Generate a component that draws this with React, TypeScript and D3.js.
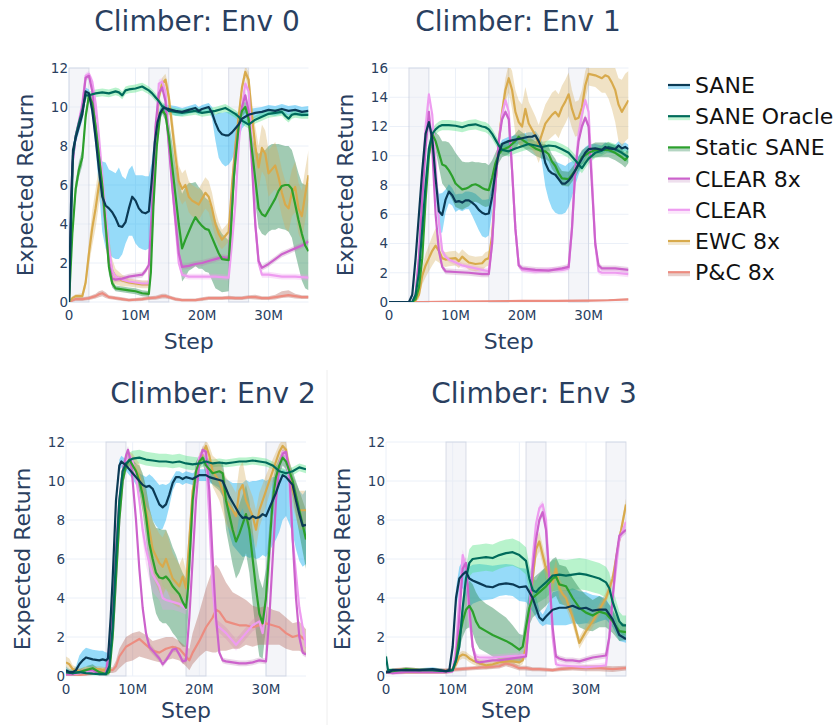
import React from "react";
import * as d3 from "d3";

// point = [step in millions, mean, band below, band above (defaults to band below)]
type Pt = number[];

const seriesNames = ["SANE", "SANE Oracle", "Static SANE", "CLEAR 8x", "CLEAR", "EWC 8x", "P&C 8x"];
const lineColors = ["#0b3a55", "#006b5b", "#2ca02c", "#cc62cc", "#ee9cf0", "#d8aa4c", "#ec8c80"];
const bandColors = ["#16b0f2", "#4ee27f", "#2e8b57", "#b87ab2", "#ee9cf0", "#d4ab5a", "#b36a5e"];
const bandOpacity = [0.45, 0.4, 0.45, 0.3, 0.3, 0.35, 0.4];

const envTitles = ["Climber: Env 0", "Climber: Env 1", "Climber: Env 2", "Climber: Env 3"];
const yMaxes = [12, 16, 12, 12];
const xTickValues = [0, 10, 20, 30];
const xTickLabels = ["0", "10M", "20M", "30M"];
const trainWindows = [
  [[0, 3], [12, 15], [24, 27]],
  [[3, 6], [15, 18], [27, 30]],
  [[6, 9], [18, 21], [30, 33]],
  [[9, 12], [21, 24], [33, 36]],
];

// ---------- Env 0 ----------
const e0Sane: Pt[] = [[0,0,0],[0.3,5,0.5],[0.6,7.8,0.3],[1,8.4,0.3],[1.5,9,0.3],[2,9.6,0.3],[2.5,10.8,0.2],[3,10.7,0.2],[3.5,9.8,0.3],[4,8.4,0.5],[4.5,6.8,1.0,0.8],[5,5.4,1.8,1.8],[5.5,4.95,2.2,2.2],[6,4.8,2.3,2.0],[6.5,4.6,2.3,2.1],[7,4.3,2.1,2.3],[7.5,3.9,1.7,3.0],[8,3.85,1.4,2.6],[8.5,4.1,1.1,2.2],[9,4.8,1.4,2.0],[9.5,5.4,2.0,1.6],[10,5.2,2.2,1.3],[10.5,4.8,2.0,1.7],[11,4.6,1.9,1.9],[11.5,4.55,1.9,1.9],[12,4.65,1.9,1.8],[12.4,6.1,1.4,1.0],[12.9,8.2,0.8,0.5],[13.3,9.2,0.4],[13.7,9.7,0.3],[14.2,9.95,0.2],[15,9.9,0.2],[16,9.8,0.25],[17,9.75,0.2],[18,9.85,0.2],[19,9.95,0.2],[19.5,9.8,0.2],[20,9.9,0.2],[21,10.0,0.2],[21.5,9.7,0.3],[22,9.2,0.9,0.4],[22.5,8.8,1.4,0.9],[23,8.6,1.5,1.1],[23.5,8.55,1.6,1.2],[24,8.55,1.5,1.2],[24.5,8.7,1.4,1.0],[25,8.9,1.1,0.8],[25.5,9.1,0.8,0.6],[26,9.4,0.5,0.4],[27,9.6,0.3],[28,9.7,0.25],[29,9.75,0.25],[30,9.85,0.25],[31,9.8,0.25],[32,9.9,0.25],[33,9.8,0.25],[34,9.85,0.25],[35,9.75,0.25],[36,9.8,0.25]];
const e0Oracle: Pt[] = [[0,0,0],[0.3,4,0.3],[0.6,7.5,0.3],[1,8.5,0.3],[1.5,9.2,0.3],[2,9.8,0.3],[2.5,10.6,0.2],[3,10.6,0.2],[4,10.7,0.2],[5,10.75,0.2],[6,10.7,0.2],[7,10.8,0.2],[7.5,10.75,0.2],[8,10.6,0.2],[8.5,10.85,0.2],[9,10.9,0.2],[10,10.95,0.2],[10.5,11.0,0.2],[11,11.05,0.2],[11.5,10.95,0.2],[12,10.85,0.2],[12.5,10.7,0.2],[13,10.5,0.2],[13.5,10.3,0.2],[14,10.05,0.2],[14.5,9.95,0.2],[15,9.8,0.2],[16,9.75,0.2],[17,9.7,0.2],[18,9.75,0.2],[19,9.8,0.2],[20,9.7,0.2],[21,9.75,0.2],[22,9.8,0.2],[23,9.9,0.2],[23.5,9.95,0.2],[24,9.85,0.2],[25,9.65,0.2],[25.5,9.5,0.2],[26,9.3,0.2],[27,9.1,0.2],[28,9.35,0.2],[29,9.5,0.2],[30,9.65,0.2],[31,9.7,0.2],[32,9.75,0.2],[32.5,9.55,0.2],[33,9.4,0.2],[33.5,9.6,0.2],[34,9.65,0.2],[35,9.6,0.2],[36,9.6,0.2]];
const e0Static: Pt[] = [[0,0,0],[0.5,3.5,0.4],[1,5.8,0.4],[1.5,6.8,0.4],[2,7.4,0.4],[2.5,9.5,0.3],[3,10.6,0.2],[3.5,10.2,0.3],[4,9,0.4],[4.5,7.5,0.5],[5,6,0.5],[5.5,4,0.5],[6,1.8,0.4],[6.5,0.95,0.2],[7,0.7,0.15],[8,0.65,0.15],[9,0.6,0.15],[10,0.55,0.15],[11,0.45,0.15],[12,0.42,0.15],[12.3,1.5,0.3],[12.7,5,0.4],[13.2,8,0.4],[13.7,9.6,0.3],[14,9.85,0.2],[14.5,9.6,0.3],[15,8.5,0.8],[15.5,7.0,1.2],[16,5.5,1.5],[16.5,4.0,1.6,2.2],[17,2.75,1.7,2.8],[17.5,3.2,1.9,2.7],[18,3.6,2.0,2.5],[18.5,4.0,2.3,2.1],[19,4.35,2.5,1.8],[19.5,4.1,2.4,1.8],[20,3.9,2.2,1.8],[20.5,3.75,2.2,1.6],[21,3.7,2.2,1.5],[21.5,3.3,2.2,1.4],[22,2.9,2.2,1.3],[22.5,2.5,1.9,1.3],[23,2.2,1.7,1.3],[24,2.15,1.6,1.0],[24.3,3.5,1.2,0.8],[24.8,6.5,0.8],[25.5,9,0.5],[26,9.8,0.3],[26.5,10.0,0.3],[27,9.4,0.4],[27.5,7.8,0.8],[28,6.3,1.2,1.5],[28.5,4.8,1.0,2.8],[29,4.5,1.0,3.2],[29.5,4.4,1.0,3.4],[30,4.7,1.1,3.3],[30.5,5.0,1.3,3.1],[31,5.3,1.6,2.8],[31.5,5.7,1.9,2.4],[32,5.95,2.2,2.1],[32.5,6.0,2.3,2.0],[33,6.0,2.4,2.0],[33.5,5.8,2.5,2.0],[34,5.0,2.5,2.2],[34.5,4.2,2.4,2.4],[35,3.5,2.4,2.6],[35.5,2.9,2.2,3.1],[36,2.6,2.0,3.5]];
const e0Clear8: Pt[] = [[0,0,0],[0.5,7,0.2],[1,8.5,0.2],[1.5,9.2,0.2],[2,10,0.2],[2.5,11.5,0.15],[3,11.6,0.15],[3.5,10.8,0.2],[4,9,0.2],[4.5,7.5,0.2],[5,5.8,0.2],[5.5,3.8,0.2],[6,2,0.2],[6.5,1.2,0.15],[7,1.15,0.15],[8,1.2,0.15],[9,1.3,0.15],[10,1.35,0.15],[11,1.4,0.15],[11.5,1.6,0.15],[12,1.9,0.15],[12.5,5,0.2],[13,9,0.2],[13.5,10.7,0.2],[14,11.0,0.15],[14.5,10.3,0.2],[15,8,0.2],[15.5,6,0.2],[16,4.2,0.2],[16.5,2.5,0.2],[17,1.8,0.15],[18,1.85,0.15],[19,1.95,0.15],[20,2.0,0.15],[21,2.1,0.15],[22,2.2,0.15],[23,2.3,0.15],[24,2.25,0.15],[24.5,5,0.2],[25,7.5,0.2],[25.5,9,0.2],[26,10,0.2],[26.5,10.6,0.2],[27,9.8,0.2],[27.5,7,0.2],[28,4,0.2],[28.5,2.1,0.15],[29,1.75,0.15],[30,1.95,0.15],[31,2.2,0.15],[32,2.45,0.15],[33,2.6,0.15],[34,2.75,0.15],[35,2.9,0.15],[36,3.1,0.15]];
const e0Clear: Pt[] = [[0,0,0],[0.5,7,0.2],[1,8.5,0.2],[1.5,9.3,0.2],[2,10.2,0.2],[2.5,11.6,0.15],[3,11.7,0.15],[3.5,11.3,0.2],[4,10.2,0.2],[4.5,8.5,0.2],[5,6.5,0.2],[5.5,4.5,0.2],[6,2.8,0.2],[6.5,1.6,0.15],[7,1.3,0.15],[8,1.15,0.15],[9,1.05,0.15],[10,1.0,0.15],[11,0.95,0.15],[12,0.95,0.15],[12.5,4,0.2],[13,8,0.2],[13.5,11.2,0.2],[14,11.3,0.2],[14.5,10.8,0.2],[15,8.5,0.2],[15.5,6,0.2],[16,4,0.2],[16.5,2,0.15],[17,1.4,0.15],[18,1.3,0.15],[20,1.3,0.15],[22,1.3,0.15],[24,1.25,0.15],[24.5,3,0.2],[25,5,0.2],[25.5,8,0.2],[26,10,0.2],[26.5,11.2,0.2],[27,10.8,0.2],[27.5,8,0.2],[28,4,0.2],[28.5,2,0.15],[29,1.4,0.15],[30,1.4,0.15],[32,1.3,0.15],[34,1.3,0.15],[36,1.25,0.15]];
const e0Ewc: Pt[] = [[0,0,0],[0.5,0.2,0.1],[1,0.3,0.1],[2,0.3,0.15],[2.5,1.0,0.3],[3,2.5,0.6],[3.5,3.8,0.9],[4,4.8,1.0],[4.5,6.0,1.0],[4.8,6.4,1.0],[5,6.0,1.0],[5.5,4.0,1.0],[6,2.5,0.9],[6.5,1.6,0.6],[7,1.3,0.4],[8,1.1,0.3],[9,1.0,0.2],[10,0.95,0.2],[11,0.9,0.2],[12,0.9,0.2],[12.5,4,0.4],[13,8,0.4],[13.5,10.5,0.3],[14,11.2,0.3],[14.5,11.4,0.3],[15,10.5,0.5],[15.5,9,0.7],[16,7.5,0.8],[16.5,6.2,0.8],[17,5.8,0.8],[17.5,6.0,0.8],[18,5.4,0.8],[18.5,5.2,0.8],[19,5.1,0.8],[19.5,5.0,0.8],[20,5.3,0.8],[20.5,5.6,0.8],[21,5.4,0.8],[21.5,4.8,0.8],[22,4.0,0.7],[22.5,3.5,0.6],[23,3.2,0.5],[23.5,3.4,0.5],[24,3.6,0.5],[24.5,6,0.5],[25,8,0.5],[25.5,9.5,0.4],[26,11,0.3],[26.5,11.8,0.3],[27,11.4,0.4],[27.5,9.5,0.8],[28,8.0,1.0],[28.5,6.9,1.1],[29,7.9,1.2],[29.5,7.6,1.2],[30,6.6,1.2],[30.5,6.8,1.2],[31,7.0,1.2],[31.5,6.4,1.2],[32,5.6,1.2],[32.5,5.0,1.2],[33,4.8,1.2],[33.5,5.6,1.2],[34,5.9,1.3],[34.5,4.8,1.3],[35,4.4,1.3],[35.5,5.5,1.3],[36,6.5,1.3]];
const e0Pnc: Pt[] = [[0,0,0],[1,0.15,0.1],[2,0.15,0.1],[3,0.2,0.1],[4,0.3,0.12],[4.5,0.4,0.15],[5,0.45,0.15],[5.5,0.35,0.15],[6,0.25,0.1],[7,0.2,0.1],[8,0.15,0.1],[9,0.1,0.08],[10,0.12,0.08],[11,0.15,0.1],[12,0.2,0.1],[13,0.22,0.1],[14,0.3,0.12],[14.5,0.3,0.12],[15,0.25,0.1],[16,0.15,0.1],[17,0.1,0.08],[18,0.1,0.08],[19,0.1,0.08],[20,0.15,0.1],[21,0.2,0.1],[22,0.2,0.1],[23,0.2,0.1],[24,0.22,0.1],[25,0.2,0.1],[26,0.2,0.1],[27,0.25,0.1],[28,0.25,0.12],[29,0.2,0.1],[30,0.2,0.1],[31,0.25,0.12],[32,0.3,0.1,0.25],[33,0.35,0.12,0.25],[34,0.3,0.12],[35,0.25,0.1],[36,0.25,0.1]];

// ---------- Env 1 ----------
const e1Sane: Pt[] = [[0,0,0],[3,0,0.02],[3.5,0.5,0.2],[4,3,0.3],[4.5,6,0.3],[5,9,0.3],[5.5,11.5,0.3],[6,12.3,0.3],[6.5,11.2,0.4],[7,8.5,1.2,0.5],[7.5,6.2,1.5,1.2],[8,5.95,1.2,1.5],[8.5,7.0,0.9,0.7],[9,7.55,0.8,0.5],[9.5,7.3,0.7,0.5],[10,6.85,0.7,0.5],[10.5,6.9,0.6,0.5],[11,6.8,0.6,0.6],[11.5,6.95,0.6,0.6],[12,6.95,0.6,0.6],[12.5,6.8,0.9,0.7],[13,6.6,1.2,0.8],[13.5,6.3,1.4,0.9],[14,6.1,1.6,0.9],[14.5,6.0,1.6,1.0],[15,6.05,1.5,1.0],[15.5,7.2,1.0,0.8],[16,8.9,0.6],[16.5,10.2,0.4],[17,10.8,0.3],[17.5,10.9,0.3],[18,11.0,0.3],[19,11.1,0.3],[20,11.2,0.3],[21,11.3,0.3],[21.5,11.3,0.3],[22,11.4,0.3],[22.5,11.0,0.4],[23,10.5,1.0,0.5],[23.5,9.5,1.6,0.7],[24,9.0,2.0,0.8],[24.5,8.8,2.4,0.9],[25,8.7,2.6,0.9],[25.5,8.4,2.4,1.1],[26,8.1,2.1,1.3],[26.5,8.1,2.0,1.2],[27,8.3,1.8,1.2],[27.5,8.6,1.4,1.0],[28,9.0,1.0,0.8],[28.5,9.4,0.7,0.6],[29,9.8,0.5],[29.5,10.2,0.4],[30,10.45,0.3],[31,10.5,0.3],[32,10.4,0.3],[32.5,10.6,0.3],[33,10.5,0.3],[34,10.45,0.3],[34.5,10.7,0.3],[35,10.5,0.3],[35.5,10.6,0.3],[36,10.45,0.3]];
const e1Oracle: Pt[] = [[0,0,0],[3.5,0,0.02],[4,0.5,0.2],[4.5,2,0.3],[5,5,0.3],[5.5,8,0.3],[6,10.5,0.3],[6.5,11.5,0.35],[7,11.8,0.35],[7.5,12.0,0.35],[8,12.1,0.35],[9,12.1,0.35],[10,12.05,0.35],[11,11.95,0.35],[12,12.1,0.35],[13,12.15,0.35],[14,12.0,0.35],[14.5,11.95,0.35],[15,11.8,0.35],[15.5,11.5,0.35],[16,11.1,0.35],[16.5,10.7,0.35],[17,10.4,0.35],[18,10.3,0.35],[19,10.5,0.35],[20,10.65,0.35],[21,10.8,0.35],[22,10.7,0.35],[23,10.6,0.35],[24,10.7,0.35],[25,10.65,0.35],[26,10.45,0.35],[27,10.2,0.35],[27.5,9.95,0.35],[28,9.7,0.35],[28.5,9.4,0.35],[29,9.15,0.35],[29.5,9.5,0.35],[30,9.8,0.35],[31,10.2,0.35],[32,10.35,0.35],[33,10.6,0.35],[34,10.45,0.35],[35,10.2,0.4],[36,9.9,0.4]];
const e1Static: Pt[] = [[0,0,0],[3.5,0,0.02],[4,0.2,0.1],[4.5,1.0,0.3],[5,3,0.4],[5.5,7,0.4],[6,10,0.4],[6.5,11.5,0.4],[7,11.0,0.6],[7.5,10.2,1.0,1.2],[8,9.4,1.3,1.6],[8.5,9.3,1.5,1.7],[9,9.0,1.6,1.9],[9.5,8.6,1.6,2.0],[10,8.1,1.6,2.1],[10.5,7.9,1.5,2.0],[11,7.7,1.4,1.9],[11.5,7.75,1.3,1.8],[12,7.85,1.3,1.7],[12.5,8.0,1.2,1.6],[13,8.05,1.2,1.5],[13.5,7.95,1.2,1.6],[14,7.8,1.2,1.7],[14.5,7.7,1.2,1.8],[15,7.65,1.1,1.7],[15.5,8.5,0.9,1.2],[16,9.5,0.7],[16.5,10.1,0.6],[17,10.4,0.5],[18,10.6,0.5],[19,11.0,0.5],[19.5,11.3,0.5],[20,11.1,0.5],[21,10.8,0.5],[22,10.5,0.5],[23,10.3,0.5],[23.5,10.3,0.5],[24,10.1,0.5],[24.5,9.6,0.5],[25,9.3,0.5],[25.5,8.8,0.5],[26,8.45,0.5],[27,8.4,0.5],[27.5,8.7,0.5],[28,9.0,0.5],[29,9.9,0.5],[30,10.2,0.5],[31,10.4,0.5],[32,10.4,0.5],[33,10.4,0.5],[34,10.2,0.5],[35,9.9,0.5],[35.5,9.7,0.5],[36,10.0,0.5]];
const e1Clear8: Pt[] = [[0,0,0],[3.5,0,0.02],[4,0.5,0.2],[4.5,3,0.2],[5,7,0.2],[5.5,10.5,0.2],[6,13.0,0.2],[6.5,10.5,0.2],[7,6,0.2],[7.5,3.5,0.2],[8,2.4,0.2],[8.5,2.1,0.2],[10,2.05,0.2],[12,2.0,0.2],[14,1.9,0.2],[15,1.9,0.2],[15.5,4,0.2],[16,8,0.2],[16.5,11,0.2],[17,12.5,0.2],[17.5,13.0,0.2],[18,12.5,0.2],[18.5,9,0.2],[19,5,0.2],[19.5,2.5,0.2],[20,2.3,0.2],[22,2.2,0.2],[24,2.15,0.2],[26,2.3,0.2],[27,2.4,0.2],[27.5,5,0.2],[28,9,0.2],[28.5,11,0.2],[29,12.0,0.2],[29.5,12.6,0.2],[30,12.0,0.2],[30.5,8,0.2],[31,4,0.2],[31.5,2.5,0.2],[32,2.3,0.2],[34,2.3,0.2],[36,2.2,0.2]];
const e1Clear: Pt[] = [[0,0,0],[3.5,0,0.02],[4,0.5,0.2],[4.5,3,0.2],[5,8,0.2],[5.5,12,0.2],[6,14.2,0.2],[6.5,12.8,0.2],[7,9.5,0.2],[7.5,5.5,0.2],[8,3.5,0.2],[8.5,3.1,0.2],[9,2.9,0.2],[10,2.7,0.2],[11,2.5,0.2],[12,2.4,0.2],[13,2.3,0.2],[14,2.2,0.2],[15,2.1,0.2],[15.5,4,0.2],[16,8,0.2],[16.5,11,0.2],[17,12.8,0.2],[17.5,13.8,0.2],[18,13,0.2],[18.5,9,0.2],[19,5,0.2],[19.5,2.5,0.2],[20,2.2,0.2],[22,2.1,0.2],[24,2.2,0.2],[26,2.2,0.2],[27,2.3,0.2],[27.5,5,0.2],[28,9,0.2],[28.5,11.5,0.2],[29,12.8,0.2],[29.5,13.8,0.2],[30,13,0.2],[30.5,8.5,0.2],[31,4,0.2],[31.5,2.1,0.2],[32,2.0,0.2],[34,2.0,0.2],[36,1.9,0.2]];
const e1Ewc: Pt[] = [[0,0,0],[3.5,0,0.02],[4,0.1,0.1],[4.5,0.5,0.3],[5,1.8,0.6],[5.5,2.5,0.8],[6,3.0,0.9],[6.5,3.5,1.0],[7,3.85,1.0,1.2],[7.5,3.5,0.8,1.0],[8,3.0,0.5],[8.5,2.9,0.5],[9,2.95,0.5],[10,3.0,0.5],[10.5,2.8,0.5],[11,3.1,0.5],[11.5,2.9,0.5],[12,2.7,0.5],[13,2.6,0.5],[14,2.65,0.5],[14.5,2.9,0.5],[15,3.0,0.5],[15.5,4.5,0.6],[16,8,0.6],[16.5,11,0.6],[17,13,0.6],[17.5,14.5,0.8],[18,15.3,1.0],[18.5,14.5,1.3],[19,13,1.5],[19.5,12.3,1.5],[20,12.0,1.5],[20.5,13.2,1.5],[21,12.2,1.5],[21.5,11.8,1.4],[22,11.4,1.3],[22.5,10.8,1.3],[23,11.5,1.3],[23.5,12.2,1.3],[24,12.5,1.4],[24.5,12.8,1.5],[25,13.0,1.5],[25.5,12.7,1.5],[26,13.3,1.5],[26.5,13.7,1.5],[27,14.2,1.5],[27.5,13.2,1.3],[28,12.5,1.2],[28.5,12.6,1.2],[29,13.3,1.2],[29.5,14.8,1.0],[30,15.6,0.8],[31,15.5,0.8],[32,15.3,1.0],[32.5,15.5,1.2],[33,15.4,1.5],[33.5,15.0,1.8],[34,14.5,2.2,1.5],[34.5,13.5,2.5,1.8],[35,13.0,2.4,2.2],[35.5,13.4,2.4,2.2],[36,13.8,2.6,2.0]];
const e1Pnc: Pt[] = [[0,0,0],[5,0,0.02],[10,0.02,0.03],[15,0.05,0.04],[20,0.08,0.05],[25,0.08,0.05],[30,0.1,0.05],[33,0.12,0.06],[36,0.18,0.06]];

// ---------- Env 2 ----------
const e2Sane: Pt[] = [[0,0.3,0.2],[0.5,0.2,0.15],[1,0.2,0.15],[1.5,0.3,0.2],[2,0.6,0.35,0.45],[2.5,0.8,0.4,0.5],[3,0.95,0.45,0.5],[4,0.85,0.45,0.5],[5,0.8,0.45,0.5],[5.5,0.85,0.45,0.45],[6,0.8,0.4,0.4],[6.3,0.9,0.3],[6.7,3,0.3],[7,5,0.3],[7.5,9,0.3],[8,10.8,0.3],[8.3,11.0,0.3],[9,10.8,0.3],[10,10.4,0.3],[10.5,10.2,0.4],[11,10.0,0.5,0.4],[11.5,9.8,0.8,0.5],[12,9.7,1.0,0.5],[12.5,9.75,1.3,0.6],[13,9.6,1.6,0.6],[13.5,9.2,1.5,0.8],[14,8.8,1.3,1.0],[14.5,8.65,1.1,1.2],[15,8.8,0.8,1.0],[15.5,9.3,0.6,0.6],[16,9.9,0.4,0.3],[16.5,10.2,0.3],[17,10.2,0.3],[17.5,10.1,0.3],[18,10.2,0.3],[19,10.1,0.3],[20,10.3,0.3],[21,10.3,0.3],[21.5,10.2,0.3],[22,10.15,0.3],[23,10.05,0.4],[23.5,10.0,0.8,0.4],[24,9.6,1.5,0.5],[24.5,9.2,1.9,0.8],[25,8.9,2.2,1.0],[25.5,8.6,2.1,1.3],[26,8.3,2.0,1.6],[26.5,8.1,2.0,1.8],[27,8.15,2.0,1.9],[27.5,8.05,2.0,1.9],[28,8.2,2.1,1.8],[28.5,8.1,2.1,1.9],[29,8.15,2.1,1.9],[29.5,8.3,2.1,1.8],[30,8.2,2.1,1.8],[30.5,8.6,2.2,1.5],[31,9.0,2.3,1.2],[31.5,9.4,2.4,0.8],[32,9.9,2.5,0.4],[32.5,10.3,2.3,0.3],[33,10.2,2.0,0.3],[33.5,10.0,2.2,0.4],[34,9.8,2.5,0.5],[34.5,9.0,2.5,0.9],[35,8.3,2.4,1.2],[35.5,7.7,2.1,1.6],[36,7.75,2.0,1.8]];
const e2Oracle: Pt[] = [[0,0.2,0.1],[1,0.15,0.1],[2,0.2,0.1],[3,0.15,0.1],[4,0.12,0.1],[5,0.1,0.08],[6,0.1,0.08],[6.5,0.5,0.15],[7,2.5,0.2],[7.5,6,0.2],[8,9,0.2],[8.5,10.5,0.25],[9,10.9,0.3,0.4],[9.5,11.05,0.3,0.4],[10,11.15,0.3,0.4],[11,11.2,0.3,0.4],[12,11.1,0.3,0.4],[13,11.05,0.3,0.4],[14,11.0,0.3,0.4],[15,11.0,0.3,0.4],[16,10.95,0.3,0.4],[17,11.0,0.3,0.4],[18,10.9,0.3,0.4],[19,10.85,0.3,0.4],[20,10.9,0.25,0.3],[21,11.0,0.2],[22,10.9,0.2],[23,10.95,0.2],[24,10.9,0.2],[25,10.95,0.2],[26,11.0,0.2],[27,11.0,0.2],[28,11.05,0.2],[29,11.0,0.2],[30,10.95,0.2],[31,10.8,0.2],[32,10.5,0.2],[33,10.4,0.2],[34,10.5,0.2],[35,10.7,0.2],[36,10.6,0.2]];
const e2Static: Pt[] = [[0,0.2,0.15],[1,0.15,0.15],[2,0.2,0.15],[3,0.3,0.2],[4,0.4,0.2],[5,0.2,0.15],[6,0.1,0.1],[6.5,0.2,0.15],[7,2,0.2],[7.5,5,0.3],[8,8,0.3],[8.5,10,0.3],[9,10.8,0.3],[9.5,11.1,0.3],[10,10.8,0.3],[10.5,10.5,0.4],[11,10,0.6,0.8],[11.5,9.3,0.9,1.1],[12,8.2,1.2,1.5],[12.5,6.8,1.6,1.8],[13,6.0,2.0,2.0],[13.5,5.3,2.1,2.3],[14,5.05,2.2,2.5],[14.5,5.0,2.3,2.5],[15,5.1,2.4,2.4],[15.5,4.9,2.4,2.2],[16,4.6,2.4,2.0],[16.5,4.4,2.4,1.8],[17,4.2,2.5,1.5],[17.5,3.8,2.3,1.5],[18,3.5,2.0,1.5],[18.3,4.5,1.5,1.2],[18.7,7,1.0],[19,9,0.8],[19.5,10.5,0.5],[20,11.0,0.3],[20.5,11.2,0.3],[21,10.8,0.5,0.4],[22,10.4,0.6,0.5],[23,10.5,1.0,0.4],[23.5,10.4,1.2,0.6],[24,9.0,1.5,0.8],[25,7.5,1.8,1.2],[25.5,6.9,1.9,1.4],[26,7.3,2.0,1.5],[27,8.3,2.0,1.5],[27.5,7.5,2.2,1.5],[28,6,2.3,1.5],[28.5,4.5,2.3,1.6],[29,3.2,2.2,1.8],[29.5,2.7,1.8,1.8],[30,4,1.5,1.5],[30.5,6.5,1.2,1.2],[31,9,1.0],[31.5,10.2,0.6],[32,10.8,0.5,0.4],[32.5,11.2,0.4],[33,11.0,0.4],[33.5,10.5,0.6,0.5],[34,10.0,0.8,0.5],[35,8.5,1.2,1.0],[36,7.0,1.5,1.5]];
const e2Clear8: Pt[] = [[0,0.1,0.1],[1,0.1,0.1],[2,0.2,0.1],[3,0.3,0.1],[4,0.3,0.1],[5,0.1,0.1],[6,0.15,0.1],[7,3,0.2],[7.5,6.5,0.2],[8,9,0.2],[8.5,10.5,0.2],[9,11.3,0.2],[9.3,11.6,0.2],[9.7,11.0,0.2],[10,10,0.2],[10.5,8,0.2],[11,5.5,0.2],[11.5,3.5,0.2],[12,2.2,0.2],[12.5,1.5,0.2],[13,1.3,0.2],[14,0.9,0.15],[14.5,0.6,0.15],[15,0.8,0.15],[16,1.35,0.15],[16.5,1.4,0.15],[17,1.1,0.15],[17.5,0.75,0.15],[18,0.8,0.15],[18.5,3,0.2],[19,6,0.2],[19.5,9,0.2],[20,11,0.2],[20.5,11.6,0.2],[21,11.5,0.2],[21.5,9.5,0.2],[22,6,0.2],[22.5,3,0.2],[23,1.2,0.15],[23.5,0.8,0.15],[24,0.75,0.15],[26,0.65,0.15],[27,0.65,0.15],[28,0.7,0.15],[29,0.8,0.15],[30,0.75,0.15],[30.5,3,0.2],[31,6,0.2],[31.5,9,0.2],[32,10.8,0.2],[32.5,11.4,0.2],[33,11.5,0.2],[33.5,10.5,0.2],[34,7,0.2],[34.5,4,0.2],[35,2,0.2],[35.5,1.2,0.15],[36,1.1,0.15]];
const e2Clear: Pt[] = [[0,0.1,0.1],[1,0.1,0.1],[2,0.15,0.1],[3,0.2,0.1],[4,0.25,0.1],[5,0.15,0.1],[6,0.1,0.1],[7,2,0.2],[7.5,5,0.2],[8,8,0.2],[8.5,10,0.2],[9,11,0.2],[9.5,11.3,0.2],[10,11.0,0.2],[10.5,10.2,0.3],[11,9.0,0.4],[11.5,7.5,0.6],[12,6.5,0.8],[12.5,5.8,0.9],[13,5.2,0.9],[13.5,4.9,0.8],[14,4.6,0.7],[14.5,4.0,0.6],[15,3.9,0.5],[16,3.8,0.4],[17,3.7,0.4],[18,3.45,0.3],[18.5,5.5,0.3],[19,8.5,0.3],[19.5,10.5,0.2],[20,11.2,0.2],[20.5,11.5,0.2],[21,11.3,0.2],[21.5,8,0.3],[22,4.5,0.3],[22.5,2.6,0.3],[23,2.5,0.3],[24,2.2,0.3],[25,1.8,0.3],[25.5,1.6,0.3],[26,1.8,0.3],[27,2.2,0.3],[28,2.6,0.3],[29,2.8,0.3],[29.5,2.2,0.3],[30,3.5,0.3],[30.5,6,0.3],[31,9,0.3],[32,10.8,0.2],[32.5,11.5,0.2],[33,11.3,0.2],[33.5,10,0.3],[34,7,0.3],[35,3.5,0.3],[36,1.5,0.2]];
const e2Ewc: Pt[] = [[0,0.7,0.3],[0.5,0.6,0.3],[1,0.35,0.2],[2,0.25,0.15],[3,0.3,0.15],[4,0.35,0.15],[5,0.35,0.15],[6,0.3,0.15],[6.5,0.3,0.15],[7,3,0.3],[7.5,6,0.4],[8,8.5,0.4],[8.5,10.5,0.4],[9,11,0.4],[9.5,11.1,0.4],[10,10.9,0.5],[11,10.2,0.7],[12,8.5,1.0],[12.5,7.5,1.2],[13,6.5,1.4],[14,5.8,1.5],[14.5,5.6,1.5],[15,6.0,1.5],[15.5,5.5,1.4],[16,5.0,1.3],[17,4.6,1.1],[17.5,5.1,1.0],[18,4.5,0.9],[18.5,7,0.7],[19,9.5,0.5],[20,11.0,0.4],[21,11.8,0.3],[21.5,11.3,0.5],[22,10.5,0.8],[23,10.0,1.0],[24,9.0,1.2],[25,8.5,1.2],[25.5,8.2,1.2],[26,9.5,1.2],[26.5,9.8,1.2],[27,9.0,1.1],[28,8.2,1.0],[28.5,7.5,1.0],[29,8.5,0.9],[30,9.5,0.8],[31,10.5,0.6],[32,11.5,0.4],[32.5,11.8,0.3],[33,11.6,0.4],[33.5,10.5,0.6],[34,9.5,0.8],[35,8.5,1.0],[36,8.5,1.0]];
const e2Pnc: Pt[] = [[0,0.1,0.1],[1,0.1,0.1],[2,0.05,0.05],[3,0.1,0.1],[4,0.15,0.1],[5,0.2,0.1],[6,0.3,0.15],[7,0.3,0.15],[7.5,0.5,0.3],[8,1.0,0.6,0.4],[9,1.5,0.8,0.5],[10,1.7,0.9,0.5],[11,1.9,0.9,0.4],[12,1.6,0.7,0.5],[13,1.3,0.5,0.5],[14,1.2,0.5,0.7],[15,1.4,0.6,0.6],[16,1.5,0.6,0.5],[17,1.4,0.6,0.4],[18,1.0,0.5,0.5],[18.5,0.8,0.5,0.6],[19,1.2,0.6,1.0],[20,1.8,0.8,1.5],[21,2.5,1.2,2.0],[22,3.0,1.8,2.5],[22.5,3.4,2.2,2.3],[23,3.3,2.0,2.2],[24,2.8,1.5,2.0],[25,2.7,1.3,1.6],[26,2.6,1.2,1.5],[27,2.6,1.0,1.3],[28,2.5,1.0,1.1],[29,2.6,1.0,0.9],[30,2.7,1.1,0.9],[31,2.6,1.0,0.8],[32,2.5,0.9,0.8],[33,2.2,0.8,0.8],[34,2.0,0.7,0.7],[35,2.1,0.8,0.7],[36,1.8,0.7,0.6]];

// ---------- Env 3 ----------
const e3Sane: Pt[] = [[0,0.2,0.1],[0.5,0.2,0.1],[1,0.3,0.1],[3,0.3,0.1],[5,0.3,0.1],[7,0.35,0.1],[8,0.3,0.1],[9,0.25,0.1],[9.5,0.3,0.1],[10,1.5,0.3],[10.5,4.0,0.5],[11,5.0,0.6],[11.5,5.2,0.7],[12,5.35,1.2,0.5],[12.5,5.0,1.5,0.6],[13,4.9,1.2,0.8],[14,4.75,0.9,1.0],[15,4.6,0.7,1.1],[16,4.55,0.6,1.1],[17,4.7,0.6,1.0],[18,4.75,0.6,1.0],[19,4.7,0.6,1.0],[20,4.55,0.7,1.0],[21,4.6,0.8,0.9],[22,4.0,0.7,0.7],[22.5,3.5,0.5,0.6],[23,3.0,0.3,0.4],[23.5,2.85,0.3],[24,3.05,0.4],[25,3.4,0.8,0.9],[26,3.5,0.9,0.9],[27,3.5,0.9,0.9],[28,3.6,0.9,0.9],[29,3.45,0.8,0.9],[30,3.5,0.8,0.8],[31,3.35,0.7,0.8],[32,3.4,0.6,0.7],[33,3.4,0.5,0.6],[34,2.9,0.4,0.5],[35,2.1,0.3],[36,1.9,0.2]];
const e3Oracle: Pt[] = [[0,1.0,0.2],[0.3,0.3,0.1],[1,0.3,0.1],[3,0.3,0.1],[5,0.3,0.1],[7,0.3,0.1],[9,0.25,0.1],[10,0.3,0.1],[10.5,0.8,0.2],[11,1.5,0.3],[11.5,3.5,0.5],[12,5.0,0.6],[12.5,5.8,0.7],[13,6.0,0.7],[14,6.05,0.7],[15,6.1,0.7],[16,6.05,0.7],[17,6.2,0.7],[18,6.3,0.7],[19,6.35,0.7],[20,6.2,0.7],[21,5.9,0.7],[21.5,5.0,0.7],[22,4.4,0.6],[22.5,4.3,0.6],[23,4.5,0.7],[24,4.8,0.8],[25,5.15,0.8],[26,5.2,0.8],[27,5.15,0.8],[28,5.2,0.8],[29,5.25,0.8],[30,5.2,0.8],[31,5.1,0.8],[32,5.0,0.8],[33,4.8,0.8],[33.5,4.5,0.8],[34,3.8,0.7],[35,2.8,0.5],[35.5,2.6,0.5],[36,2.6,0.5]];
const e3Static: Pt[] = [[0,0.2,0.1],[1,0.25,0.1],[3,0.35,0.1],[5,0.3,0.1],[7,0.3,0.1],[9,0.25,0.1],[10,0.3,0.1],[10.5,0.8,0.3],[11,2.0,0.6],[11.5,2.8,0.8],[12,3.4,1.0],[12.5,3.6,1.1,1.3],[13,3.3,1.1,1.4],[13.5,2.8,1.1,1.5],[14,2.5,1.1,1.5],[15,2.3,1.1,1.4],[16,2.1,1.1,1.4],[17,1.95,1.1,1.3],[18,1.8,1.0,1.2],[19,1.6,0.9,1.0],[20,1.35,0.7,0.8],[20.5,1.5,0.6],[21,2.5,0.8],[21.5,3.5,0.9],[22,4.0,1.0],[23,4.3,1.0],[24,4.6,1.0],[25,5.0,1.0],[25.5,5.1,1.0],[26,4.7,1.0],[27,4.6,1.0],[28,4.0,1.0],[29,3.5,1.0],[30,3.25,0.9],[31,3.1,0.8],[32,3.3,0.8],[33,3.2,0.7],[34,2.8,0.6],[35,2.3,0.5],[36,2.25,0.4]];
const e3Clear8: Pt[] = [[0,0.2,0.1],[1,0.15,0.1],[3,0.2,0.1],[5,0.2,0.1],[7,0.2,0.1],[9,0.2,0.1],[10,0.25,0.1],[10.5,1.0,0.2],[11,3.0,0.3],[11.5,5.5,0.3],[12,5.8,0.3],[12.5,3.5,0.3],[13,1.5,0.2],[13.5,0.75,0.15],[14,0.7,0.15],[15,0.75,0.15],[16,0.8,0.15],[17,0.8,0.15],[18,0.85,0.15],[19,0.9,0.15],[20,0.95,0.15],[21,1.0,0.15],[21.5,3,0.2],[22,5.5,0.2],[22.5,7,0.2],[23,8.0,0.2],[23.5,8.4,0.2],[24,7.5,0.2],[24.5,5.0,0.2],[25,2.5,0.2],[25.5,1.0,0.15],[26,0.9,0.15],[27,0.8,0.15],[28,0.8,0.15],[29,0.75,0.15],[30,0.85,0.15],[31,0.95,0.15],[32,1.0,0.15],[33,1.05,0.15],[33.5,2.0,0.2],[34,4.0,0.2],[34.5,6,0.2],[35,7.2,0.2],[36,7.5,0.2]];
const e3Clear: Pt[] = [[0,0.2,0.1],[1,0.2,0.1],[3,0.25,0.1],[5,0.2,0.1],[7,0.2,0.1],[9,0.2,0.1],[10,0.25,0.1],[10.5,1.5,0.2],[11,4,0.3],[11.5,6.2,0.3],[12,5.5,0.3],[12.5,3,0.3],[13,1.5,0.2],[13.5,1.0,0.15],[14,0.95,0.15],[16,0.95,0.15],[18,1.0,0.15],[20,1.05,0.15],[21,1.1,0.15],[21.5,3,0.2],[22,6,0.2],[22.5,7.8,0.2],[23,8.6,0.2],[23.5,8.8,0.2],[24,8,0.2],[24.5,5,0.2],[25,2,0.2],[25.5,0.6,0.15],[26,0.55,0.15],[28,0.5,0.15],[30,0.45,0.15],[32,0.5,0.15],[33,0.55,0.15],[33.5,2,0.2],[34,4,0.2],[35,7,0.2],[36,7.9,0.2]];
const e3Ewc: Pt[] = [[0,0.2,0.1],[1,0.2,0.1],[3,0.2,0.1],[5,0.2,0.1],[7,0.2,0.1],[9,0.2,0.1],[10,0.3,0.1],[10.5,0.6,0.2],[11,1.0,0.2],[11.5,1.1,0.2],[12,1.05,0.2],[12.5,0.9,0.2],[13,0.8,0.2],[14,0.65,0.2],[15,0.55,0.2],[16,0.6,0.2],[17,0.7,0.2],[18,0.75,0.2],[19,0.75,0.2],[20,0.7,0.2],[20.5,0.8,0.2],[21,1.5,0.3],[21.5,3,0.4],[22,5,0.5],[22.5,6.5,0.5],[23,6.9,0.5],[23.5,6.2,0.5],[24,5.5,0.5],[24.5,5.2,0.5],[25,4.8,0.5],[25.5,5.5,0.5],[26,4.5,0.5],[26.5,4.2,0.5],[27,4.0,0.5],[28,3.0,0.4],[29,1.7,0.3],[30,2.3,0.3],[31,2.8,0.3],[32,3.4,0.3],[33,4.0,0.3],[34,5.0,0.3],[35,7.0,0.3],[36,8.8,0.3]];
const e3Pnc: Pt[] = [[0,0.2,0.1],[1,0.3,0.1],[3,0.35,0.1],[5,0.3,0.1],[7,0.3,0.1],[9,0.3,0.1],[11,0.35,0.1],[13,0.4,0.1],[15,0.45,0.12],[17,0.5,0.12],[18,0.65,0.15],[19,0.55,0.15],[20,0.4,0.12],[21,0.4,0.12],[22,0.35,0.1],[23,0.35,0.1],[25,0.3,0.1],[26,0.35,0.1],[28,0.4,0.12],[30,0.4,0.15],[32,0.4,0.15],[34,0.35,0.15],[36,0.4,0.12]];

const envData = [
  [e0Sane, e0Oracle, e0Static, e0Clear8, e0Clear, e0Ewc, e0Pnc],
  [e1Sane, e1Oracle, e1Static, e1Clear8, e1Clear, e1Ewc, e1Pnc],
  [e2Sane, e2Oracle, e2Static, e2Clear8, e2Clear, e2Ewc, e2Pnc],
  [e3Sane, e3Oracle, e3Static, e3Clear8, e3Clear, e3Ewc, e3Pnc],
];

// layout
const W = 838, H = 725;
const frames = [
  { left: 69, right: 308.5, top: 68, bottom: 302, titleX: 197, titleY: 31, stepY: 349 },
  { left: 389, right: 628.5, top: 68, bottom: 302, titleX: 518, titleY: 31, stepY: 349 },
  { left: 66, right: 306, top: 442, bottom: 676, titleX: 213, titleY: 403, stepY: 718 },
  { left: 386, right: 626, top: 442, bottom: 676, titleX: 534, titleY: 403, stepY: 718 },
];
const FONT = "'DejaVu Sans', Verdana, sans-serif";
const INK = "#2a3f5f";

function Panel({ idx }: { idx: number }) {
  const f = frames[idx];
  const x = d3.scaleLinear().domain([0, 36]).range([f.left, f.right]);
  const y = d3.scaleLinear().domain([0, yMaxes[idx]]).range([f.bottom, f.top]);
  const yTicks = d3.range(0, yMaxes[idx] + 0.1, 2);
  const area = d3.area<Pt>()
    .x(d => x(d[0]))
    .y0(d => y(d[1] - d[2]))
    .y1(d => y(d[1] + (d[3] ?? d[2])));
  const line = d3.line<Pt>().x(d => x(d[0])).y(d => y(d[1]));
  const clipId = "clip" + idx;
  const data = envData[idx];
  const midY = (f.top + f.bottom) / 2;
  const midX = (f.left + f.right) / 2;

  return (
    <g>
      <defs>
        <clipPath id={clipId}>
          <rect x={f.left} y={f.top} width={f.right - f.left} height={f.bottom - f.top} />
        </clipPath>
      </defs>
      {yTicks.map(t => (
        <line key={"gy" + t} x1={f.left} x2={f.right} y1={y(t)} y2={y(t)} stroke="#ebf0f8" strokeWidth={1} />
      ))}
      {xTickValues.map(t => (
        <line key={"gx" + t} x1={x(t)} x2={x(t)} y1={f.top} y2={f.bottom} stroke="#ebf0f8" strokeWidth={1} />
      ))}
      {trainWindows[idx].map(([a, b], i) => (
        <rect key={"w" + i} x={x(a)} y={f.top} width={x(b) - x(a)} height={f.bottom - f.top}
          fill="#e6e9f2" fillOpacity={0.45} stroke="#b9bfd3" strokeOpacity={0.5} strokeWidth={1} />
      ))}
      <g clipPath={`url(#${clipId})`}>
        {data.map((s, i) => (
          <path key={"b" + i} d={area(s) || ""} fill={bandColors[i]} fillOpacity={bandOpacity[i]} stroke="none" />
        ))}
        {data.map((s, i) => i).reverse().map(i => (
          <path key={"l" + i} d={line(data[i]) || ""} fill="none" stroke={lineColors[i]} strokeWidth={2.2}
            strokeLinejoin="round" />
        ))}
      </g>
      {yTicks.map(t => (
        <text key={"ty" + t} x={f.left - 1} y={y(t)} dy="0.36em" textAnchor="end" fontSize={13.5} fill={INK} fontFamily={FONT}>
          {t}
        </text>
      ))}
      {xTickValues.map((t, i) => (
        <text key={"tx" + t} x={x(t)} y={f.bottom + 18} textAnchor="middle" fontSize={13.5} fill={INK} fontFamily={FONT}>
          {xTickLabels[i]}
        </text>
      ))}
      <text x={midX} y={f.stepY} textAnchor="middle" fontSize={22} fill={INK} fontFamily={FONT}>Step</text>
      <text transform={`translate(${f.left - 36},${midY}) rotate(-90)`} textAnchor="middle" fontSize={22} fill={INK} fontFamily={FONT}>
        Expected Return
      </text>
      <text x={f.titleX} y={f.titleY} textAnchor="middle" fontSize={28} fill={INK} fontFamily={FONT}>
        {envTitles[idx]}
      </text>
    </g>
  );
}

function Legend() {
  const x0 = 668, y0 = 85, gap = 31.2;
  return (
    <g>
      {seriesNames.map((name, i) => {
        const ly = y0 + i * gap;
        return (
          <g key={name}>
            <rect x={x0} y={ly} width={22} height={4} fill={bandColors[i]} fillOpacity={bandOpacity[i] * 0.8} />
            <line x1={x0} x2={x0 + 22} y1={ly} y2={ly} stroke={lineColors[i]} strokeWidth={2.2} />
            <text x={x0 + 27} y={ly + 8} fontSize={22} fill="#111" fontFamily={FONT}>{name}</text>
          </g>
        );
      })}
    </g>
  );
}

export default function App() {
  return (
    <svg width={W} height={H} style={{ position: "absolute", left: 0, top: 0, background: "#fff" }}>
      <rect width={W} height={H} fill="#fff" />
      <line x1={327} x2={327} y1={370} y2={H} stroke="#eeeeee" strokeWidth={1} />
      {[0, 1, 2, 3].map(i => <Panel key={i} idx={i} />)}
      <Legend />
    </svg>
  );
}
